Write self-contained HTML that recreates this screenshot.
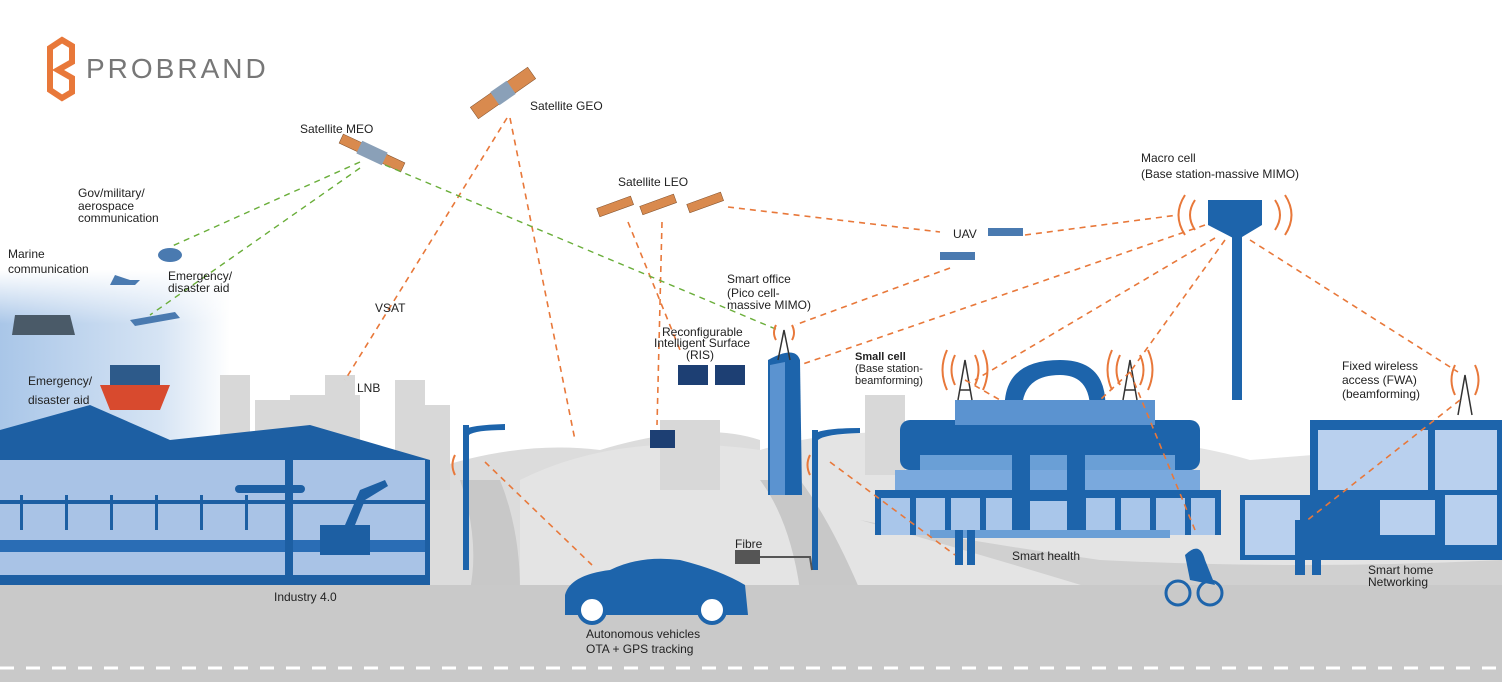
<!DOCTYPE html>
<html><head><meta charset="utf-8"><style>
html,body{margin:0;padding:0;background:#fff}
svg{display:block}
text{font-family:"Liberation Sans",Arial,sans-serif;fill:#222;font-size:12px}
</style></head><body>
<svg width="1502" height="682" viewBox="0 0 1502 682" xmlns="http://www.w3.org/2000/svg">
<defs>
<linearGradient id="sea" x1="0" y1="0" x2="1" y2="0"><stop offset="0" stop-color="#a9c6e8"/><stop offset="0.7" stop-color="#d6e4f4"/><stop offset="1" stop-color="#fff"/></linearGradient>
<linearGradient id="seav" x1="0" y1="0" x2="0" y2="1"><stop offset="0" stop-color="#fff" stop-opacity="1"/><stop offset="0.3" stop-color="#fff" stop-opacity="0"/></linearGradient>
</defs>
<rect width="1502" height="682" fill="#fff"/>
<rect x="0" y="270" width="230" height="180" fill="url(#sea)"/>
<rect x="0" y="270" width="230" height="180" fill="url(#seav)"/>
<path d="M430 470 Q520 440 600 450 Q700 420 760 440 L760 590 L430 590Z" fill="#dcdcdc"/>
<path d="M520 480 Q620 430 760 450 Q860 420 1000 440 Q1150 430 1250 460 L1502 440 L1502 590 L520 590Z" fill="#e4e4e4"/>
<path d="M760 480 Q790 520 800 590 L860 590 Q830 520 800 480Z" fill="#c8c8c8"/>
<path d="M460 480 Q480 540 470 590 L520 590 Q520 530 500 480Z" fill="#c8c8c8"/>
<path d="M860 520 Q1000 560 1130 600 L1502 600 L1502 560 Q1300 570 1100 560 Q960 540 860 520Z" fill="#d0d0d0"/>
<g fill="#d8d8d8">
<rect x="220" y="375" width="30" height="60"/><rect x="255" y="400" width="40" height="40"/>
<rect x="290" y="395" width="70" height="50"/><rect x="325" y="375" width="30" height="70"/>
<rect x="395" y="380" width="30" height="110"/><rect x="420" y="405" width="30" height="85"/>
<rect x="660" y="420" width="60" height="70"/><rect x="865" y="395" width="40" height="80"/>
</g>
<rect x="0" y="585" width="1502" height="97" fill="#c9c9c9"/>
<g stroke="#fff" stroke-width="3" stroke-dasharray="14 12"><line x1="0" y1="668" x2="1502" y2="668"/></g>
<path d="M0 430 L90 405 L170 440 L310 425 L430 460 L430 585 L0 585Z" fill="#1d5fa3"/>
<rect x="0" y="460" width="425" height="120" fill="#a9c3e6"/>
<rect x="0" y="500" width="425" height="4" fill="#1d5fa3"/>
<rect x="0" y="540" width="425" height="12" fill="#2a6db5"/>
<rect x="285" y="455" width="8" height="125" fill="#1d5fa3"/>
<rect x="235" y="485" width="70" height="8" rx="4" fill="#1d5fa3"/>
<rect x="0" y="575" width="430" height="8" fill="#1d5fa3"/>
<g fill="#1d5fa3"><rect x="20" y="495" width="3" height="35"/><rect x="65" y="495" width="3" height="35"/><rect x="110" y="495" width="3" height="35"/><rect x="155" y="495" width="3" height="35"/><rect x="200" y="495" width="3" height="35"/><rect x="245" y="495" width="3" height="35"/>
<rect x="320" y="525" width="50" height="30"/><path d="M345 525 L360 490 L385 480 L388 486 L365 500 L355 525Z"/></g>
<rect x="900" y="420" width="300" height="50" fill="#1d64ab" rx="10"/>
<path d="M1005 415 Q1000 360 1060 360 Q1110 360 1105 415 L1090 415 Q1092 375 1060 375 Q1020 375 1022 415Z" fill="#1d64ab"/>
<rect x="955" y="400" width="200" height="25" fill="#5b93d0"/>
<rect x="920" y="455" width="255" height="30" fill="#6a9fd6"/>
<rect x="895" y="470" width="305" height="25" fill="#7aa9dd"/>
<rect x="875" y="490" width="345" height="45" fill="#a9c6ea"/>
<rect x="875" y="490" width="345" height="8" fill="#1d64ab"/>
<g fill="#1d64ab"><rect x="875" y="490" width="6" height="45"/><rect x="910" y="490" width="6" height="45"/><rect x="945" y="490" width="6" height="45"/><rect x="980" y="490" width="6" height="45"/><rect x="1080" y="490" width="6" height="45"/><rect x="1115" y="490" width="6" height="45"/><rect x="1150" y="490" width="6" height="45"/><rect x="1185" y="490" width="6" height="45"/><rect x="1215" y="490" width="6" height="45"/>
<rect x="1012" y="440" width="18" height="95"/><rect x="1067" y="440" width="18" height="95"/><rect x="1030" y="495" width="37" height="6"/></g>
<rect x="930" y="530" width="240" height="8" fill="#6a9fd6"/>
<path d="M1310 420 L1502 420 L1502 560 L1310 560Z" fill="#1d64ab"/>
<rect x="1318" y="430" width="110" height="60" fill="#b9d0ee"/><rect x="1435" y="430" width="62" height="60" fill="#b9d0ee"/>
<rect x="1240" y="495" width="200" height="65" fill="#1d64ab"/>
<rect x="1245" y="500" width="55" height="55" fill="#b9d0ee"/><rect x="1380" y="500" width="55" height="35" fill="#b9d0ee"/>
<rect x="1445" y="495" width="52" height="50" fill="#b9d0ee"/>
<rect x="1232" y="230" width="10" height="170" fill="#1d64ab"/>
<path d="M1208 200 L1262 200 L1262 225 L1237 240 L1208 225Z" fill="#1d64ab"/>
<path d="M768 360 Q795 345 800 360 L802 495 L768 495Z" fill="#1d64ab"/>
<path d="M770 365 L785 362 L785 495 L770 495Z" fill="#5b93d0"/>
<g stroke="#333" stroke-width="1.5" fill="none">
<path d="M958 400 L965 360 L972 400 M960 390 L970 390"/>
<path d="M1123 400 L1130 360 L1137 400 M1125 390 L1135 390"/>
<path d="M1458 415 L1465 375 L1472 415"/>
<path d="M778 360 L784 330 L790 360"/>
</g>
<g fill="#1d64ab"><rect x="463" y="425" width="6" height="145"/><path d="M463 430 Q470 425 505 424 L505 430 Q475 430 469 435Z"/>
<rect x="812" y="430" width="6" height="140"/><path d="M812 435 Q820 428 860 428 L860 433 Q825 434 818 440Z"/></g>
<path d="M565 595 Q570 575 610 570 Q640 555 680 560 Q720 570 745 585 L748 615 L565 615Z" fill="#1d64ab"/>
<circle cx="592" cy="610" r="13" fill="#fff" stroke="#1d64ab" stroke-width="4"/><circle cx="712" cy="610" r="13" fill="#fff" stroke="#1d64ab" stroke-width="4"/>
<path d="M100 385 L170 385 L160 410 L110 410Z" fill="#d84a2e"/><rect x="110" y="365" width="50" height="20" fill="#2d5a8a"/>
<path d="M15 315 L70 315 L75 335 L12 335Z" fill="#4a5a68"/>
<circle cx="1178" cy="593" r="12" fill="none" stroke="#1d64ab" stroke-width="3"/><circle cx="1210" cy="593" r="12" fill="none" stroke="#1d64ab" stroke-width="3"/>
<path d="M1185 555 Q1200 540 1205 560 L1215 585 L1190 580Z" fill="#1d64ab"/>
<g fill="#1d64ab"><rect x="955" y="530" width="8" height="35"/><rect x="967" y="530" width="8" height="35"/><rect x="1295" y="520" width="10" height="55"/><rect x="1312" y="530" width="9" height="45"/></g>
<rect x="735" y="550" width="25" height="14" fill="#555"/>
<path d="M760 557 L810 557 L812 570" stroke="#555" stroke-width="2" fill="none"/>
<g fill="#d98a4e" stroke="#7a4a26" stroke-width="0.5">
<rect x="468" y="86" width="70" height="14" transform="rotate(-35 503 93)"/>
<rect x="338" y="148" width="68" height="10" transform="rotate(25 372 153)"/>
<rect x="597" y="202" width="36" height="9" transform="rotate(-20 615 206)"/>
<rect x="640" y="200" width="36" height="9" transform="rotate(-20 658 204)"/>
<rect x="687" y="198" width="36" height="9" transform="rotate(-20 705 202)"/>
</g>
<g fill="#8aa0b8"><rect x="358" y="146" width="28" height="14" transform="rotate(25 372 153)"/><rect x="493" y="85" width="20" height="16" transform="rotate(-35 503 93)"/></g>
<g fill="#4a7ab0"><rect x="940" y="252" width="35" height="8"/><rect x="988" y="228" width="35" height="8"/>
<ellipse cx="170" cy="255" rx="12" ry="7"/><path d="M95 285 L135 285 L140 280 L130 280 L115 275 L110 285Z"/><path d="M130 320 L175 312 L180 318 L135 326Z"/></g>
<g fill="#1d3f73"><rect x="678" y="365" width="30" height="20"/><rect x="715" y="365" width="30" height="20"/><rect x="650" y="430" width="25" height="18"/></g>
<g stroke="#e8783a" stroke-width="1.6" stroke-dasharray="6 5" fill="none">
<path d="M507 118 L345 380"/><path d="M510 118 L575 440"/>
<path d="M628 222 L680 350"/><path d="M662 222 L657 425"/>
<path d="M728 207 L940 232"/><path d="M1025 235 L1178 215"/>
<path d="M950 268 L795 325"/>
<path d="M1205 225 L800 365"/><path d="M1215 238 L975 380"/><path d="M1225 240 L1130 372"/><path d="M1250 240 L1458 372"/>
<path d="M1130 372 L1195 530"/><path d="M965 380 L1000 400"/><path d="M1130 372 L1100 400"/>
<path d="M1460 400 L1305 522"/>
<path d="M485 462 L592 565"/><path d="M830 462 L955 555"/>
</g>
<g stroke="#6aae3a" stroke-width="1.4" stroke-dasharray="6 5" fill="none">
<path d="M360 162 L170 247"/><path d="M360 168 L150 315"/><path d="M385 165 L778 330"/>
</g>
<g stroke="#e8783a" stroke-width="2" fill="none">
<path d="M955 355 Q948 370 955 385 M975 355 Q982 370 975 385 M947 350 Q938 370 947 390 M983 350 Q992 370 983 390"/>
<path d="M1120 355 Q1113 370 1120 385 M1140 355 Q1147 370 1140 385 M1112 350 Q1103 370 1112 390 M1148 350 Q1157 370 1148 390"/>
<path d="M1455 365 Q1448 380 1455 395 M1475 365 Q1482 380 1475 395"/>
<path d="M1195 200 Q1185 215 1195 230 M1185 195 Q1172 215 1185 235 M1275 200 Q1285 215 1275 230 M1285 195 Q1298 215 1285 235"/>
<path d="M776 325 Q772 333 776 340 M792 325 Q796 333 792 340"/>
<path d="M455 455 Q450 465 455 475 M810 455 Q805 465 810 475"/>
</g>
<path d="M62 40 L72 46 L72 62 L58 70 L72 78 L72 92 L62 98 L50 90 L50 48Z" fill="none" stroke="#e8783a" stroke-width="6"/>
<text x="86" y="78" style="font-size:28px;fill:#777;letter-spacing:3px">PROBRAND</text>
<text x="530" y="110">Satellite GEO</text>
<text x="300" y="133">Satellite MEO</text>
<text x="618" y="186">Satellite LEO</text>
<text x="78" y="197">Gov/military/</text><text x="78" y="210">aerospace</text><text x="78" y="222">communication</text>
<text x="8" y="258">Marine</text><text x="8" y="273">communication</text>
<text x="168" y="280">Emergency/</text><text x="168" y="292">disaster aid</text>
<text x="28" y="385">Emergency/</text><text x="28" y="404">disaster aid</text>
<text x="375" y="312">VSAT</text><text x="357" y="392">LNB</text>
<text x="1141" y="162">Macro cell</text><text x="1141" y="178">(Base station-massive MIMO)</text>
<text x="953" y="238">UAV</text>
<text x="727" y="283">Smart office</text><text x="727" y="297">(Pico cell-</text><text x="727" y="309">massive MIMO)</text>
<text x="662" y="336">Reconfigurable</text><text x="654" y="347">Intelligent Surface</text><text x="686" y="359">(RIS)</text>
<text x="855" y="360" style="font-size:11px;font-weight:bold">Small cell</text><text x="855" y="372" style="font-size:11px">(Base station-</text><text x="855" y="384" style="font-size:11px">beamforming)</text>
<text x="1342" y="370">Fixed wireless</text><text x="1342" y="384">access (FWA)</text><text x="1342" y="398">(beamforming)</text>
<text x="735" y="548">Fibre</text>
<text x="1012" y="560">Smart health</text>
<text x="1368" y="574">Smart home</text><text x="1368" y="586">Networking</text>
<text x="274" y="601">Industry 4.0</text>
<text x="586" y="638">Autonomous vehicles</text><text x="586" y="653">OTA + GPS tracking</text>
</svg>
</body></html>
